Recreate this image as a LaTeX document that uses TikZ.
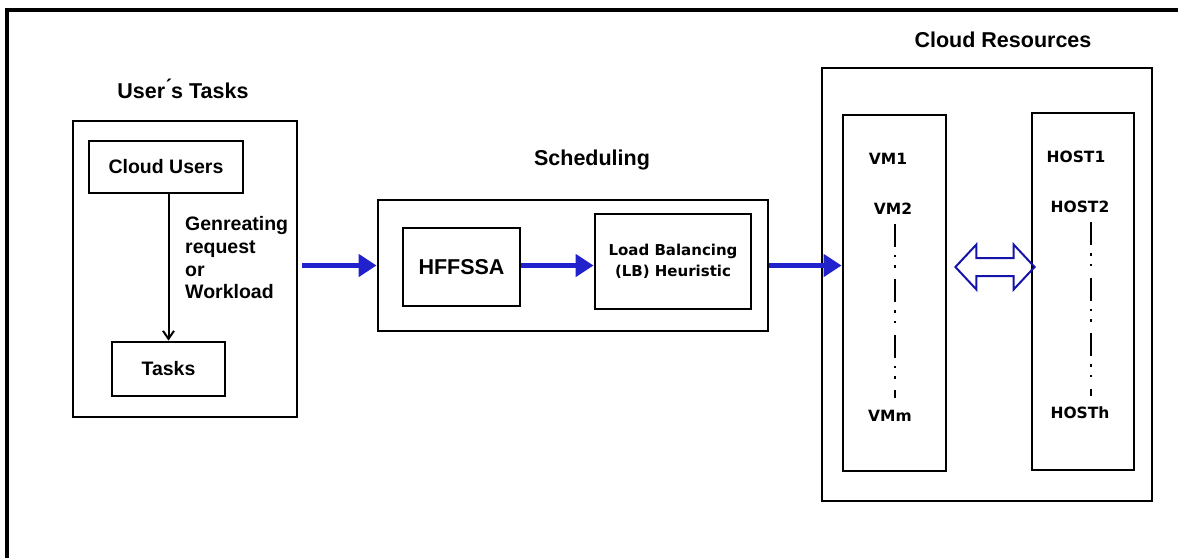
\documentclass[tikz,border=0pt]{standalone}
\usepackage{fontspec}
\setmainfont{Liberation Sans}
\newfontfamily\tahfont{DejaVu Sans}
\usepackage{tikz}
\usetikzlibrary{arrows.meta,positioning,calc}
\definecolor{arrowblue}{RGB}{34,34,204}
\definecolor{outlineblue}{RGB}{20,20,170}

\begin{document}
\begin{tikzpicture}[x=1pt,y=-1pt,
    box/.style={shape=rectangle,draw,line width=2.8pt,inner sep=0pt},
    title/.style={font=\fontsize{21.5}{25}\selectfont\bfseries,inner sep=0pt},
    lbl/.style={font=\fontsize{19.5}{22.6}\selectfont\bfseries,inner sep=0pt},
    vmlbl/.style={font=\tahfont\fontsize{15.5}{19}\selectfont\bfseries,inner sep=0pt},
    flow/.style={draw=arrowblue,line width=5pt,-{Triangle[length=18pt,width=22pt]}},
    dotline/.style={line width=2.8pt,dash pattern=on 23pt off 8pt on 2.5pt off 8pt on 2.5pt off 11.5pt}]
    \useasboundingbox (0,0) rectangle (1178,558);
    % frame
    \draw[line width=3.2pt] (1178,10) -- (7,10) -- (7,558);

    % user side
    \node[title,anchor=base] (usrtitle) at (183,98) {User\'{}s Tasks};
    \node[box,minimum width=224pt,minimum height=296pt] (usrbox) at (185,269) {};
    \node[box,lbl,minimum width=154pt,minimum height=52pt] (cusers) at (166,167) {Cloud Users};
    \node[box,lbl,minimum width=113pt,minimum height=54pt] (tasks) at (168.5,369) {Tasks};
    \draw[line width=2pt,-{Straight Barb[length=8pt,width=11pt]}]
      (tasks.north |- cusers.south) -- (tasks.north);
    \node[lbl,anchor=north west,align=left] (genlbl) at (185,216.5)
      {Genreating\\request\\or\\Workload};

    % scheduling
    \node[title,anchor=base] (schtitle) at (592,165) {Scheduling};
    \node[box,minimum width=390pt,minimum height=131pt] (schbox) at (573,265.5) {};
    \node[box,font=\fontsize{21.5}{25}\selectfont\bfseries,
      minimum width=117pt,minimum height=78pt] (hffssa) at (461.5,267) {HFFSSA};
    \node[box,font=\tahfont\fontsize{15}{21}\selectfont\bfseries,align=center,
      minimum width=156pt,minimum height=95pt] (lbbox) at (673,261.5)
      {Load Balancing\\ (LB) Heuristic};

    % resources
    \node[title,anchor=base] (cloudtitle) at (1003,47) {Cloud Resources};
    \node[box,minimum width=330pt,minimum height=433pt] (cloudbox) at (987,284.5) {};
    \node[box,minimum width=103pt,minimum height=356pt] (vmbox) at (894.5,293) {};
    \node[box,minimum width=102pt,minimum height=357pt] (hostbox) at (1083,291.5) {};

    \node[vmlbl] (vm1) at (888,159) {VM1};
    \node[vmlbl] (vm2) at (893,209) {VM2};
    \node[vmlbl] (vmm) at (890,416) {VMm};
    \node[vmlbl] (host1) at (1076,157) {HOST1};
    \node[vmlbl] (host2) at (1080,207) {HOST2};
    \node[vmlbl] (hosth) at (1080,413) {HOSTh};

    \draw[dotline] ([xshift=2pt,yshift=-9pt]vm2.south) -- ([xshift=5pt,yshift=12pt]vmm.north);
    \draw[dotline] ([xshift=11pt,yshift=-9pt]host2.south) -- ([xshift=11pt,yshift=11pt]hosth.north);

    % flow
    \draw[flow,shorten <=4pt] (usrbox.east |- schbox.west) -- (schbox.west);
    \draw[flow] (hffssa.east |- schbox.west) -- (lbbox.west |- schbox.west);
    \draw[flow] (schbox.east) -- (vmbox.west |- schbox.east);

    % vm <-> host
    \coordinate (dl) at ([xshift=8pt]vmbox.east |- hffssa.east);
    \coordinate (dr) at ([xshift=4pt]hostbox.west |- hffssa.east);
    \draw[outlineblue,line width=2pt,line join=miter]
      (dl) -- ++(21,-22.5) -- ++(0,13.5) -- ($(dr)+(-21,-9)$) -- ++(0,-13.5)
      -- (dr) -- ++(-21,22.5) -- ++(0,-13.5) -- ($(dl)+(21,9)$) -- ++(0,13.5) -- cycle;
\end{tikzpicture}
\end{document}
